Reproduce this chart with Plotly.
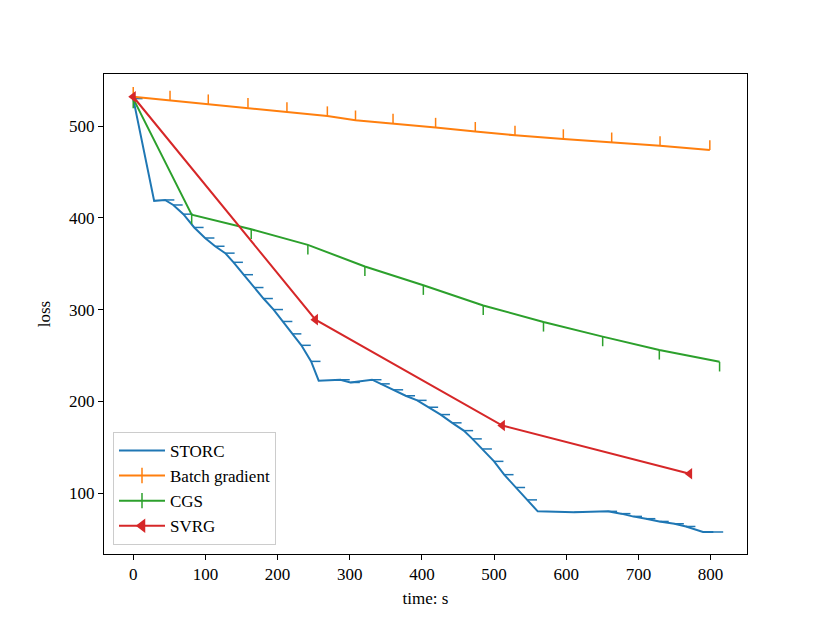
import plotly.graph_objects as go

# data
storc_x = [0, 29, 44, 55.5, 69.5, 84.5, 99.5, 113.5, 127.5, 139, 153, 167.5, 180.5, 194.5, 207.5,
           220, 233, 246.5, 257, 287, 301, 331, 342.5, 361, 377.5, 393.5, 409.5, 426, 442, 458,
           470, 484, 500, 514, 530, 546.5, 560.5, 611, 657.5, 676, 692, 710.5, 729, 750, 766, 789.5, 804.5]
storc_y = [530, 418.5, 419.5, 414, 404, 389.5, 378, 369, 361.5, 351.5, 338, 324, 312, 300, 287,
           273.5, 261, 243.5, 222.5, 223.5, 220.5, 223.5, 219, 212.5, 206, 201, 193.5, 185.5, 176.5, 168,
           159, 148, 134.5, 120, 106, 92.5, 80, 79, 80, 77.5, 74.5, 72, 69, 66.5, 63.5, 57.5, 57.5]
storc_nomark = [1, 18, 36]  # corners without a tick

batch_x = [0, 51, 104, 159, 213, 269, 308, 360, 419, 474, 529, 596, 663, 730, 799]
batch_y = [532, 528, 524, 520, 515.5, 511, 506.5, 503, 498.5, 494, 490, 486, 482.5, 478.5, 474]

cgs_x = [0, 81, 163.5, 242, 321, 402, 485, 568.5, 650.5, 729, 812.5]
cgs_y = [530, 403.5, 387.5, 370.5, 347, 326.5, 304.5, 286.5, 270.5, 256, 243]

svrg_x = [0, 252.5, 511.5, 771]
svrg_y = [532, 289, 173.5, 121]

names = ['STORC', 'Batch gradient', 'CGS', 'SVRG']
colors = ['#1f77b4', '#ff7f0e', '#2ca02c', '#d62728']

FONT = 'Liberation Serif'


def tick_segments(xs, ys, dx, dy, skip=()):
    # short one-sided tick marks like matplotlib's tickright/tickup/tickdown
    sx, sy = [], []
    for i, (x, y) in enumerate(zip(xs, ys)):
        if i in skip:
            continue
        sx += [x, x + dx, None]
        sy += [y, y + dy, None]
    return sx, sy


fig = go.Figure()

# STORC
fig.add_trace(go.Scatter(x=storc_x, y=storc_y, mode='lines',
                         line=dict(color=colors[0], width=2), showlegend=False))
tx, ty = tick_segments(storc_x, storc_y, 13, 0, storc_nomark)
fig.add_trace(go.Scatter(x=tx, y=ty, mode='lines',
                         line=dict(color=colors[0], width=1.5), showlegend=False))

# Batch gradient
fig.add_trace(go.Scatter(x=batch_x, y=batch_y, mode='lines',
                         line=dict(color=colors[1], width=2), showlegend=False))
tx, ty = tick_segments(batch_x, batch_y, 0, 10.5)
fig.add_trace(go.Scatter(x=tx, y=ty, mode='lines',
                         line=dict(color=colors[1], width=1.5), showlegend=False))

# CGS
fig.add_trace(go.Scatter(x=cgs_x, y=cgs_y, mode='lines',
                         line=dict(color=colors[2], width=2), showlegend=False))
tx, ty = tick_segments(cgs_x, cgs_y, 0, -10.5)
fig.add_trace(go.Scatter(x=tx, y=ty, mode='lines',
                         line=dict(color=colors[2], width=1.5), showlegend=False))

# SVRG
fig.add_trace(go.Scatter(x=svrg_x, y=svrg_y, mode='lines+markers',
                         line=dict(color=colors[3], width=2),
                         marker=dict(symbol='triangle-left', size=10, color=colors[3]),
                         showlegend=False))

# legend-only entries
legend_markers = [None, 'line-ns', 'line-ns', 'triangle-left']
for i, (nm, c, sym) in enumerate(zip(names, colors, legend_markers)):
    if sym is None:
        fig.add_trace(go.Scatter(x=[None], y=[None], mode='lines', name=nm,
                                 line=dict(color=c, width=2), legendgroup=str(i)))
    else:
        fig.add_trace(go.Scatter(x=[None], y=[None], mode='lines+markers', name=nm,
                                 line=dict(color=c, width=2), legendgroup=str(i),
                                 marker=dict(symbol=sym, size=10 if sym == 'triangle-left' else 11,
                                             color=c, line=dict(color=c, width=1.5))))

axis_style = dict(showline=True, mirror=True, linecolor='black', linewidth=1,
                  ticks='outside', ticklen=5, tickwidth=1, tickcolor='black',
                  showgrid=False, zeroline=False,
                  tickfont=dict(family=FONT, size=17, color='black'))

# page body has an 8px margin, so the figure is a bit smaller than the window
fig.update_layout(
    width=822, height=615,
    margin=dict(l=96, r=83, t=66, b=69),
    paper_bgcolor='white', plot_bgcolor='white',
    font=dict(family=FONT, size=17, color='black'),
    xaxis=dict(range=[-40.5, 850.5], tickvals=[0, 100, 200, 300, 400, 500, 600, 700, 800],
               title=dict(text='time: s', standoff=8, font=dict(family=FONT, size=17)),
               **axis_style),
    yaxis=dict(range=[33.5, 556.8], tickvals=[100, 200, 300, 400, 500],
               title=dict(text='loss', standoff=14, font=dict(family=FONT, size=17)),
               **axis_style),
    legend=dict(x=0.014, y=0.019, xanchor='left', yanchor='bottom',
                bgcolor='rgba(255,255,255,0.8)', bordercolor='#cccccc', borderwidth=1,
                font=dict(family=FONT, size=17, color='black'),
                tracegroupgap=0, itemwidth=46),
)

fig.write_html("out.html")
